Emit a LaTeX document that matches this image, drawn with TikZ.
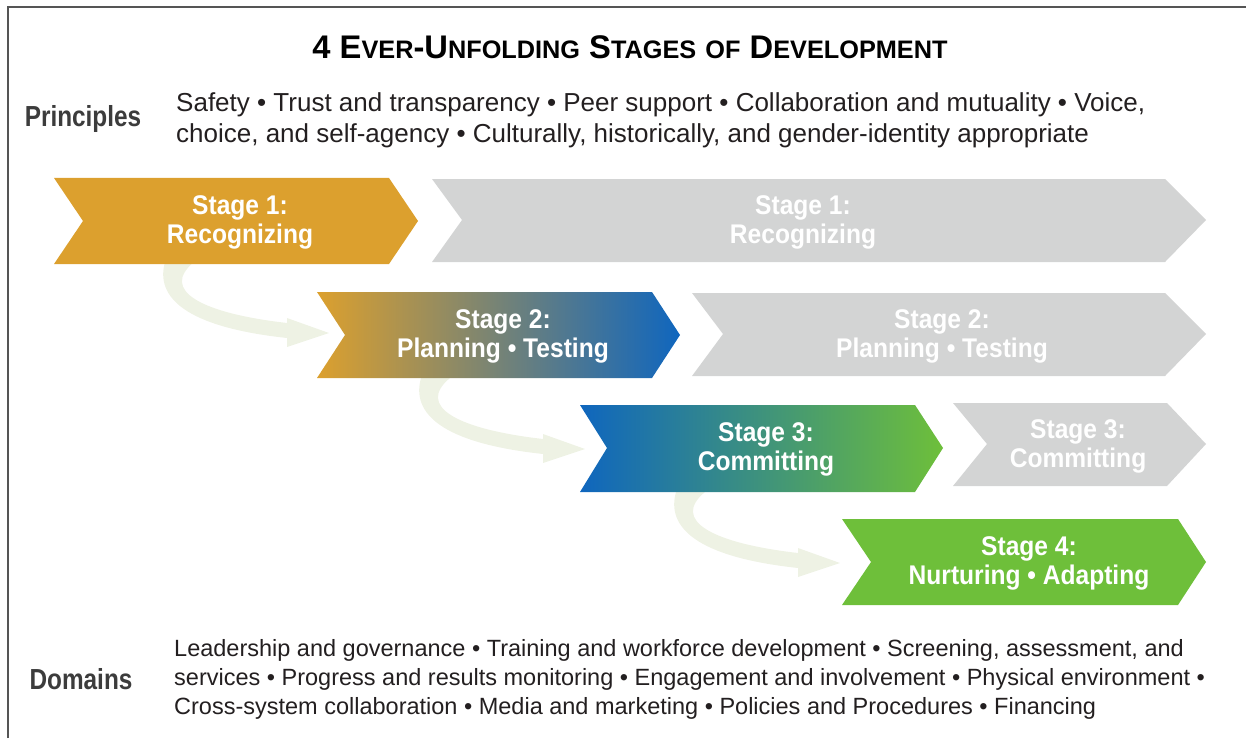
\documentclass[tikz,border=0pt]{standalone}
\usepackage{fontspec}
\setmainfont{Liberation Sans}
\newfontfamily\condb[FakeStretch=0.91]{Liberation Sans}
\newfontfamily\sidef[FakeStretch=0.84]{Liberation Sans}
\newfontfamily\bodyf{Liberation Sans}
\definecolor{stOrange}{HTML}{DCA02E}
\definecolor{stBlue}{HTML}{0F66BE}
\definecolor{stGreen}{HTML}{6EBF3A}
\definecolor{stGray}{HTML}{D3D4D4}
\definecolor{swirlc}{HTML}{EEF2E4}
\definecolor{frameC}{HTML}{555555}
\definecolor{txtC}{HTML}{231F20}
\definecolor{lblC}{HTML}{3C3C3C}
\newcommand\tsc[2]{#1{\fontsize{25.3}{25.3}\selectfont #2}}
\newcommand\swirlshape{%
  (165,262) .. controls (155,297) and (185,327) .. (287,338) -- (287,347) -- (329,333) -- (287,318) -- (287,323)
  .. controls (200,313) and (160,290) .. (194,262) -- cycle}
\begin{document}
\begin{tikzpicture}[x=1pt,y=-1pt,
  stagetxt/.style={font=\fontsize{27}{29}\selectfont\condb\bfseries, text=white, align=center},
  bodytxt/.style={font=\fontsize{26}{26}\selectfont\bodyf, text=txtC, anchor=base west, inner sep=0pt},
  domtxt/.style={font=\fontsize{23.5}{23.5}\selectfont\bodyf, text=txtC, anchor=base west, inner sep=0pt},
  sidelbl/.style={font=\fontsize{29}{29}\selectfont\sidef\bfseries, text=lblC},
  swirlfill/.style={fill=swirlc}]
\useasboundingbox (0,0) rectangle (1246,738);
% frame (top and left edges)
\draw[frameC, line width=2.5pt] (8,738) -- (8,7) -- (1246,7);
% title
\node (title) at (630,47) {\fontsize{32.7}{32.7}\selectfont\bfseries 4 \tsc{E}{VER}-\tsc{U}{NFOLDING} \tsc{S}{TAGES} {\fontsize{25.3}{25.3}\selectfont OF} \tsc{D}{EVELOPMENT}};
% principles
\node[sidelbl] (plbl) at (83,119) {Principles};
\node[bodytxt] (p1) at (176,112) {Safety • Trust and transparency • Peer support • Collaboration and mutuality • Voice,};
\node[bodytxt] (p2) at (176,143) {choice, and self-agency • Culturally, historically, and gender-identity appropriate};
% swirl arrows
\fill[swirlfill] \swirlshape;
\begin{scope}[shift={(256,116)}]
\fill[swirlfill] \swirlshape;
\end{scope}
\begin{scope}[shift={(511,230)}]
\fill[swirlfill] \swirlshape;
\end{scope}
% stage 1
\fill[stOrange] (54,178) -- (389,178) -- (418,221) -- (389,264) -- (54,264) -- (83,221) -- cycle;
\fill[stGray] (432,179) -- (1165,179) -- (1206,220) -- (1165,262) -- (432,262) -- (462,220) -- cycle;
\node[stagetxt] (s1) at (240,222) {Stage 1:\\Recognizing};
\node[stagetxt] (g1) at (803,222) {Stage 1:\\Recognizing};
% stage 2
\shade[left color=stOrange, right color=stBlue] (317,292) -- (652,292) -- (680,335) -- (652,378) -- (317,378) -- (345,335) -- cycle;
\fill[stGray] (692,293) -- (1165,293) -- (1206,334) -- (1165,376) -- (692,376) -- (723,334) -- cycle;
\node[stagetxt] (s2) at (503,336) {Stage 2:\\Planning • Testing};
\node[stagetxt] (g2) at (942,336) {Stage 2:\\Planning • Testing};
% stage 3
\shade[left color=stBlue, right color=stGreen] (580,405) -- (915,405) -- (943,448) -- (915,492) -- (580,492) -- (607,448) -- cycle;
\fill[stGray] (953,403) -- (1167,403) -- (1206,444) -- (1167,486) -- (953,486) -- (987,444) -- cycle;
\node[stagetxt] (s3) at (766,449) {Stage 3:\\Committing};
\node[stagetxt] (g3) at (1078,446) {Stage 3:\\Committing};
% stage 4
\fill[stGreen] (842,519) -- (1178,519) -- (1206,562) -- (1178,605) -- (842,605) -- (871,562) -- cycle;
\node[stagetxt] (s4) at (1029,563) {Stage 4:\\Nurturing • Adapting};
% domains
\node[sidelbl] (dlbl) at (81,679) {Domains};
\node[domtxt] (d1) at (174,656) {Leadership and governance • Training and workforce development • Screening, assessment, and};
\node[domtxt] (d2) at (174,685) {services • Progress and results monitoring • Engagement and involvement • Physical environment •};
\node[domtxt] (d3) at (174,714) {Cross-system collaboration • Media and marketing • Policies and Procedures • Financing};
\end{tikzpicture}
\end{document}
